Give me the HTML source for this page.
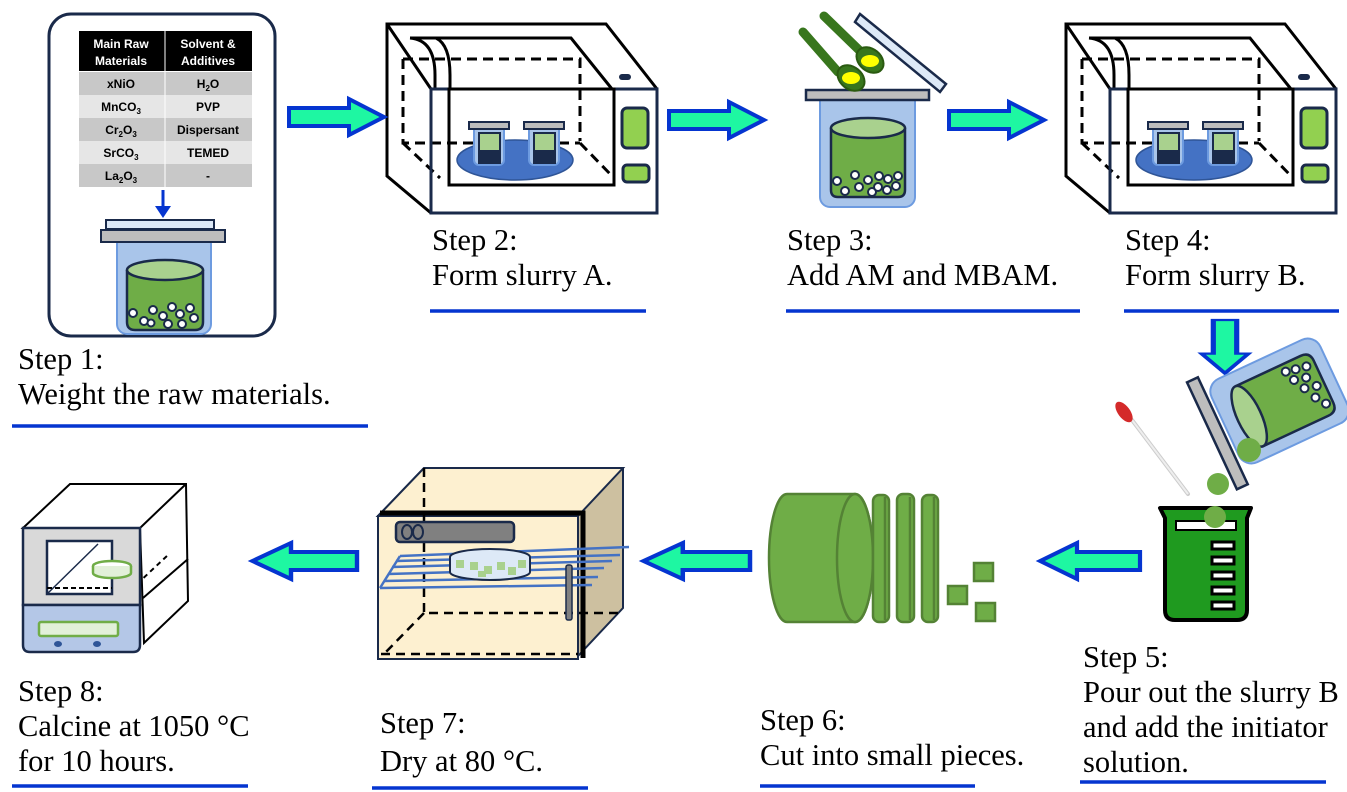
<!DOCTYPE html>
<html><head><meta charset="utf-8"><style>
html,body{margin:0;padding:0;background:#fff;}
svg{display:block;}
text{font-family:"Liberation Serif",serif;font-size:30.5px;fill:#000;}
.tb{font-family:"Liberation Sans",sans-serif;font-size:12px;font-weight:bold;text-anchor:middle;}
</style></head><body>
<svg width="1347" height="792" viewBox="0 0 1347 792" xmlns="http://www.w3.org/2000/svg">
<defs>
<g id="arR"><polygon points="0,-9 60,-9 60,-18 95,0 60,18 60,9 0,9" fill="#1ef7a2" stroke="#0535d0" stroke-width="4" stroke-linejoin="miter"/></g>
</defs>

<!-- Step1 box -->
<rect x="49" y="14" width="226" height="322" rx="22" fill="#fff" stroke="#1a2a4a" stroke-width="3"/>
<rect x="79" y="31" width="173" height="40" fill="#000"/>
<rect x="79" y="72" width="173" height="23" fill="#c8c8c8"/>
<rect x="79" y="95" width="173" height="23" fill="#e6e6e6"/>
<rect x="79" y="118" width="173" height="23" fill="#c8c8c8"/>
<rect x="79" y="141" width="173" height="23" fill="#e6e6e6"/>
<rect x="79" y="164" width="173" height="23" fill="#c8c8c8"/>
<line x1="165" y1="31" x2="165" y2="187" stroke="#fff" stroke-width="1"/>
<text class="tb" x="121" y="48" style="fill:#fff">Main Raw</text>
<text class="tb" x="121" y="65" style="fill:#fff">Materials</text>
<text class="tb" x="208" y="48" style="fill:#fff">Solvent &amp;</text>
<text class="tb" x="208" y="65" style="fill:#fff">Additives</text>
<text class="tb" x="121" y="88">xNiO</text><text class="tb" x="208" y="88">H<tspan font-size="8" dy="3">2</tspan><tspan dy="-3">O</tspan></text>
<text class="tb" x="121" y="111">MnCO<tspan font-size="8" dy="3">3</tspan></text><text class="tb" x="208" y="111">PVP</text>
<text class="tb" x="121" y="134">Cr<tspan font-size="8" dy="3">2</tspan><tspan dy="-3">O</tspan><tspan font-size="8" dy="3">3</tspan></text><text class="tb" x="208" y="134">Dispersant</text>
<text class="tb" x="121" y="157">SrCO<tspan font-size="8" dy="3">3</tspan></text><text class="tb" x="208" y="157">TEMED</text>
<text class="tb" x="121" y="180">La<tspan font-size="8" dy="3">2</tspan><tspan dy="-3">O</tspan><tspan font-size="8" dy="3">3</tspan></text><text class="tb" x="208" y="180">-</text>
<line x1="163" y1="190" x2="163" y2="208" stroke="#0535d0" stroke-width="3"/>
<polygon points="155,206 171,206 163,218" fill="#0535d0"/>
<!-- jar -->
<rect x="117" y="234" width="94" height="100" rx="10" fill="#a9c5ea" stroke="#6d9be0" stroke-width="2"/>
<rect x="106" y="220" width="108" height="9" fill="#dde9f7" stroke="#1a2a4a" stroke-width="2"/>
<rect x="101" y="230" width="124" height="12" fill="#bdbdbd" stroke="#1a2a4a" stroke-width="2"/>
<path d="M127,270 L127,322 Q127,330 135,330 L195,330 Q203,330 203,322 L203,270" fill="#6fad47" stroke="#1a2a4a" stroke-width="2.5"/>
<ellipse cx="165" cy="270" rx="38" ry="10" fill="#a9d18e" stroke="#1a2a4a" stroke-width="2.5"/>
<g fill="#fff" stroke="#1a2a4a" stroke-width="2">
<circle cx="133" cy="313" r="4"/><circle cx="144" cy="321" r="4"/><circle cx="153" cy="310" r="4"/><circle cx="163" cy="316" r="4"/><circle cx="172" cy="307" r="4"/><circle cx="180" cy="314" r="4"/><circle cx="190" cy="308" r="4"/><circle cx="194" cy="318" r="4"/><circle cx="168" cy="324" r="4"/><circle cx="182" cy="324" r="4"/><circle cx="151" cy="323" r="3.5"/>
</g>

<!-- Microwave step 2 -->
<g id="mw" stroke-width="3">
<polygon points="387,24 606,24 657,89 657,213 431,213 387,176" fill="#fff" stroke="#000"/>
<path d="M387,24 L431,89" stroke="#000" fill="none"/>
<path d="M410,38 L571,38 L612,89" stroke="#000" fill="none"/>
<path d="M410,38 Q435,40 435,75 L435,89" stroke="#000" fill="none"/>
<path d="M436,38 Q450,45 450,75 L450,89" stroke="#000" fill="none"/>
<path d="M403,59 L580,59 L580,141 M403,59 L403,143 L580,143 M403,143 L440,178 M580,143 L614,178" stroke="#000" fill="none" stroke-dasharray="10,6"/>
<rect x="431" y="89" width="226" height="124" fill="none" stroke="#1a2a4a"/>
<rect x="449" y="89" width="165" height="96" fill="none" stroke="#000"/>
<ellipse cx="515" cy="160" rx="58" ry="20" fill="#4472c4" stroke="#2f5597" stroke-width="1.5"/>
<g stroke-width="2">
<rect x="474" y="122" width="30" height="43" rx="5" fill="#a9c5ea" stroke="#6d9be0"/>
<rect x="469" y="122" width="40" height="7" fill="#bdbdbd" stroke="#1a2a4a"/>
<rect x="479" y="133" width="21" height="30" fill="#a9d18e" stroke="#1a2a4a"/>
<rect x="479" y="150" width="21" height="13" fill="#1a2a4a"/>
<rect x="529" y="122" width="30" height="43" rx="5" fill="#a9c5ea" stroke="#6d9be0"/>
<rect x="524" y="122" width="40" height="7" fill="#bdbdbd" stroke="#1a2a4a"/>
<rect x="534" y="133" width="21" height="30" fill="#a9d18e" stroke="#1a2a4a"/>
<rect x="534" y="150" width="21" height="13" fill="#1a2a4a"/>
</g>
<rect x="622" y="108" width="26" height="40" rx="5" fill="#92d050" stroke="#1a2a4a"/>
<rect x="623" y="165" width="26" height="17" rx="4" fill="#92d050" stroke="#1a2a4a"/>
<rect x="619" y="74" width="12" height="6" rx="3" fill="#1a2a4a" stroke="none"/>
</g>
<use href="#mw" x="679" y="0"/>

<!-- Step 3 -->
<rect x="820" y="90" width="95" height="117" rx="10" fill="#a9c5ea" stroke="#6d9be0" stroke-width="2"/>
<rect x="806" y="90" width="123" height="10" fill="#bdbdbd" stroke="#1a2a4a" stroke-width="2.5"/>
<path d="M831,128 L831,190 Q831,197 838,197 L898,197 Q905,197 905,190 L905,128" fill="#6fad47" stroke="#1a2a4a" stroke-width="2.5"/>
<ellipse cx="868" cy="128" rx="37" ry="10" fill="#a9d18e" stroke="#1a2a4a" stroke-width="2.5"/>
<g fill="#fff" stroke="#1a2a4a" stroke-width="2">
<circle cx="837" cy="181" r="4"/><circle cx="845" cy="191" r="4"/><circle cx="855" cy="175" r="4"/><circle cx="859" cy="187" r="4"/><circle cx="868" cy="180" r="4"/><circle cx="872" cy="192" r="4"/><circle cx="879" cy="176" r="4"/><circle cx="878" cy="187" r="4"/><circle cx="888" cy="179" r="4"/><circle cx="887" cy="190" r="4"/><circle cx="898" cy="176" r="4"/><circle cx="896" cy="186" r="4"/>
</g>
<polygon points="860,14 946,84 940,92 855,22" fill="#dde9f7" stroke="#1a2a4a" stroke-width="2.5"/>
<g fill="#38761d" stroke="#2a5a10" stroke-width="2">
<path d="M803,32 L838,72" stroke="#38761d" stroke-width="9" stroke-linecap="round"/>
<ellipse cx="851" cy="78" rx="15" ry="11" transform="rotate(40 851 78)"/>
<path d="M824,16 L859,50" stroke="#38761d" stroke-width="9" stroke-linecap="round"/>
<ellipse cx="870" cy="60" rx="15" ry="11" transform="rotate(40 870 60)"/>
</g>
<ellipse cx="851" cy="78" rx="9" ry="6" fill="#ffff00"/>
<ellipse cx="870" cy="61" rx="9" ry="6" fill="#ffff00"/>

<!-- arrows right -->
<use href="#arR" x="289" y="117"/>
<use href="#arR" x="669" y="120"/>
<use href="#arR" x="949" y="120"/>
<!-- down arrow -->
<use href="#arR" transform="translate(1225,320) rotate(90) scale(0.56,1.3)"/>
<!-- left arrows -->
<use href="#arR" transform="translate(1140,561) scale(-1.05,1)"/>
<use href="#arR" transform="translate(750,561) scale(-1.12,1)"/>
<use href="#arR" transform="translate(357,561) scale(-1.1,1)"/>

<!-- Step 5 tilted jar -->
<g transform="rotate(-25 1265 410)">
<rect x="1222" y="362" width="120" height="92" rx="14" fill="#a9c5ea" stroke="#6d9be0" stroke-width="2"/>
<rect x="1206" y="352" width="12" height="118" fill="#bdbdbd" stroke="#1a2a4a" stroke-width="2.5"/>
<path d="M1248,376 L1320,376 Q1330,376 1330,386 L1330,432 Q1330,442 1320,442 L1248,442" fill="#6fad47" stroke="#1a2a4a" stroke-width="2.5"/>
<ellipse cx="1248" cy="409" rx="12" ry="33" fill="#a9d18e" stroke="#1a2a4a" stroke-width="2.5"/>
<g fill="#fff" stroke="#1a2a4a" stroke-width="2">
<circle cx="1300" cy="384" r="4"/><circle cx="1310" cy="386" r="4"/><circle cx="1321" cy="388" r="4"/><circle cx="1304" cy="395" r="4"/><circle cx="1316" cy="398" r="4"/><circle cx="1310" cy="407" r="4"/><circle cx="1322" cy="410" r="4"/><circle cx="1316" cy="420" r="4"/><circle cx="1323" cy="430" r="4"/>
</g>
</g>
<circle cx="1249" cy="450" r="12" fill="#6fad47"/>
<circle cx="1218" cy="484" r="11" fill="#6fad47"/>
<!-- dropper -->
<line x1="1132" y1="420" x2="1188" y2="494" stroke="#ccc" stroke-width="4" stroke-linecap="round"/>
<line x1="1132" y1="420" x2="1188" y2="494" stroke="#eee" stroke-width="2"/>
<ellipse cx="1124" cy="412" rx="6" ry="12" transform="rotate(-37 1124 412)" fill="#d42a2a"/>
<!-- beaker -->
<path d="M1160,508 L1251,508 L1247,518 L1247,610 Q1247,620 1237,620 L1175,620 Q1165,620 1165,610 L1165,518 Z" fill="#1f9a1f" stroke="#000" stroke-width="4" stroke-linejoin="round"/>
<path d="M1176,521 L1236,521 L1236,530 L1176,530 Z" fill="#fff" stroke="#000" stroke-width="2"/>
<g fill="#fff" stroke="#000" stroke-width="3">
<rect x="1212" y="542" width="22" height="7"/><rect x="1212" y="557" width="22" height="7"/><rect x="1212" y="572" width="22" height="7"/><rect x="1212" y="587" width="22" height="7"/><rect x="1212" y="602" width="22" height="7"/>
</g>
<circle cx="1215" cy="517" r="11" fill="#6fad47"/>

<!-- Step 6 -->
<g fill="#6fad47" stroke="#548235" stroke-width="2.5">
<path d="M787,494 L855,494 A18,64 0 0 1 855,622 L787,622 A18,64 0 0 1 787,494 Z"/>
<ellipse cx="855" cy="558" rx="18" ry="64"/>
<rect x="873" y="495" width="16" height="127" rx="6"/><line x1="885" y1="497" x2="885" y2="620"/>
<rect x="897" y="494" width="17" height="128" rx="6"/><line x1="910" y1="497" x2="910" y2="620"/>
<rect x="922" y="495" width="16" height="127" rx="6"/><line x1="934" y1="497" x2="934" y2="620"/>
<rect x="974" y="563" width="19" height="18"/><rect x="948" y="586" width="19" height="18"/><rect x="976" y="603" width="19" height="18"/>
</g>

<!-- Step 7 oven -->
<polygon points="378,516 424,468 623,468 623,608 578,656 578,516" fill="#cdc0a0" stroke="#1a2a4a" stroke-width="2"/>
<polygon points="378,516 424,468 623,468 578,516" fill="#fdf0d0" stroke="#1a2a4a" stroke-width="2"/>
<rect x="378" y="516" width="200" height="143" fill="#fdf0d0" stroke="#1a2a4a" stroke-width="2"/>
<path d="M380,513 L583,513 L583,658" stroke="#000" stroke-width="5" fill="none"/>
<path d="M424,468 L424,613 L623,613 M424,613 L383,655 M381,654 L578,654" stroke="#000" stroke-width="2.5" fill="none" stroke-dasharray="9,6"/>
<rect x="396" y="522" width="118" height="20" rx="4" fill="#808080" stroke="#1a2a4a" stroke-width="2.5"/>
<ellipse cx="407" cy="532" rx="5" ry="7" fill="#808080" stroke="#1a2a4a" stroke-width="2"/>
<ellipse cx="418" cy="532" rx="5" ry="7" fill="#808080" stroke="#1a2a4a" stroke-width="2"/>
<g stroke="#4472c4" stroke-width="2.5">
<line x1="400" y1="556" x2="629" y2="547"/><line x1="396" y1="561" x2="620" y2="555"/><line x1="392" y1="567" x2="612" y2="561"/><line x1="388" y1="574" x2="604" y2="568"/><line x1="384" y1="581" x2="598" y2="577"/><line x1="380" y1="588" x2="592" y2="585"/>
<line x1="400" y1="556" x2="380" y2="588"/>
</g>
<ellipse cx="490" cy="557" rx="40" ry="8" fill="#dde9f7" stroke="#1a2a4a" stroke-width="2"/>
<path d="M450,557 L450,572 A40,8 0 0 0 530,572 L530,557" fill="#dde9f7" stroke="#1a2a4a" stroke-width="2"/>
<g fill="#a9d18e"><rect x="456" y="560" width="8" height="8"/><rect x="470" y="562" width="8" height="8"/><rect x="484" y="566" width="8" height="8"/><rect x="497" y="562" width="8" height="8"/><rect x="508" y="567" width="8" height="8"/><rect x="518" y="560" width="8" height="8"/><rect x="478" y="571" width="8" height="6"/></g>
<rect x="566" y="565" width="6" height="55" rx="2" fill="#808080" stroke="#1a2a4a" stroke-width="1.5"/>

<!-- Step 8 furnace -->
<polygon points="23,528 70,484 186,484 188,601 144,643 140,528" fill="#fff" stroke="#000" stroke-width="2"/>
<path d="M140,528 L186,484 M143,598 L188,559" stroke="#000" stroke-width="2" fill="none"/>
<path d="M137,584 L168,555" stroke="#000" stroke-width="2" stroke-dasharray="5,4"/>
<rect x="23" y="528" width="117" height="77" fill="#d9d9d9" stroke="#1a2a4a" stroke-width="2.5"/>
<path d="M23,605 L140,605 L140,645 Q140,652 133,652 L30,652 Q23,652 23,645 Z" fill="#b4c7e7" stroke="#1a2a4a" stroke-width="2.5"/>
<rect x="47" y="541" width="65" height="53" fill="#fff" stroke="#1a2a4a" stroke-width="2.5"/>
<path d="M47,594 L98,544" stroke="#1a2a4a" stroke-width="1.5"/>
<path d="M47,588 L112,588" stroke="#000" stroke-width="2" stroke-dasharray="5,3"/>
<ellipse cx="112" cy="566" rx="19" ry="5" fill="#fff" stroke="#70ad47" stroke-width="2.5"/>
<path d="M93,566 L93,573 A19,5 0 0 0 131,573 L131,566" fill="#e2f0d9" stroke="#70ad47" stroke-width="2.5"/>
<rect x="39" y="622" width="79" height="14" rx="2" fill="#e2f0d9" stroke="#70ad47" stroke-width="2.5"/>
<ellipse cx="58" cy="644" rx="4" ry="3" fill="#2f5597"/><ellipse cx="97" cy="644" rx="4" ry="3" fill="#2f5597"/>

<!-- Texts -->
<text x="18" y="369">Step 1:</text>
<text x="18" y="404">Weight the raw materials.</text>
<text x="432" y="250">Step 2:</text>
<text x="432" y="285">Form slurry A.</text>
<text x="787" y="250">Step 3:</text>
<text x="787" y="285">Add AM and MBAM.</text>
<text x="1125" y="250">Step 4:</text>
<text x="1125" y="285">Form slurry B.</text>
<text x="1083" y="667">Step 5:</text>
<text x="1083" y="702">Pour out the slurry B</text>
<text x="1083" y="737">and add the initiator</text>
<text x="1083" y="772">solution.</text>
<text x="760" y="730">Step 6:</text>
<text x="760" y="765">Cut into small pieces.</text>
<text x="380" y="733">Step 7:</text>
<text x="380" y="771">Dry at 80 °C.</text>
<text x="18" y="701">Step 8:</text>
<text x="18" y="736">Calcine at 1050 °C</text>
<text x="18" y="771">for 10 hours.</text>

<g stroke="#0535d0" stroke-width="3.5">
<line x1="12" y1="426" x2="368" y2="426"/>
<line x1="430" y1="311" x2="646" y2="311"/>
<line x1="786" y1="311" x2="1080" y2="311"/>
<line x1="1124" y1="311" x2="1339" y2="311"/>
<line x1="1080" y1="782" x2="1326" y2="782"/>
<line x1="760" y1="786" x2="975" y2="786"/>
<line x1="372" y1="788" x2="588" y2="788"/>
<line x1="12" y1="786" x2="248" y2="786"/>
</g>
</svg>
</body></html>
